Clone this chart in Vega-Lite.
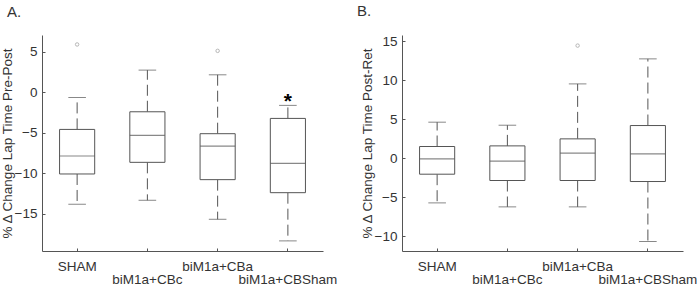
{
  "$schema": "https://vega.github.io/schema/vega-lite/v6.json",
  "padding": {"left": 0, "top": 4, "right": 0, "bottom": 0},
  "spacing": 20,
  "config": {
    "view": {"stroke": null},
    "font": "Liberation Sans",
    "axis": {
      "grid": false,
      "domainColor": "#555555",
      "tickColor": "#555555",
      "labelColor": "#333333",
      "titleColor": "#333333",
      "labelFontSize": 13.5,
      "titleFontSize": 13.5,
      "titleFontWeight": "normal",
      "tickSize": -3
    },
    "title": {"fontSize": 15, "fontWeight": "normal", "anchor": "start", "color": "#333333", "frame": "group"}
  },
  "datasets": {
    "A": [
      {"group": "SHAM", "lower": -13.83, "q1": -10.08, "median": -7.86, "q3": -4.57, "upper": -0.62},
      {"group": "biM1a+CBc", "lower": -13.33, "q1": -8.64, "median": -5.31, "q3": -2.39, "upper": 2.76},
      {"group": "biM1a+CBa", "lower": -15.68, "q1": -10.78, "median": -6.63, "q3": -5.10, "upper": 2.18},
      {"group": "biM1a+CBSham", "lower": -18.35, "q1": -12.39, "median": -8.77, "q3": -3.21, "upper": -1.60}
    ],
    "Aout": [
      {"group": "SHAM", "value": 5.93},
      {"group": "biM1a+CBa", "value": 5.14}
    ],
    "Astar": [
      {"group": "biM1a+CBSham", "y": -1.9, "label": "*"}
    ],
    "B": [
      {"group": "SHAM", "lower": -5.73, "q1": -2.05, "median": -0.09, "q3": 1.50, "upper": 4.62},
      {"group": "biM1a+CBc", "lower": -6.24, "q1": -2.86, "median": -0.38, "q3": 1.58, "upper": 4.23},
      {"group": "biM1a+CBa", "lower": -6.24, "q1": -2.86, "median": 0.64, "q3": 2.48, "upper": 9.53},
      {"group": "biM1a+CBSham", "lower": -10.68, "q1": -2.99, "median": 0.56, "q3": 4.19, "upper": 12.74}
    ],
    "Bout": [
      {"group": "biM1a+CBa", "value": 14.44}
    ]
  },
  "hconcat": [
    {
      "title": {"text": "A.", "dx": -35, "offset": 15},
      "width": 281,
      "height": 216,
      "encoding": {
        "x": {
          "field": "group", "type": "nominal",
          "sort": ["SHAM", "biM1a+CBc", "biM1a+CBa", "biM1a+CBSham"],
          "scale": {"paddingInner": 0, "paddingOuter": 0},
          "axis": {
            "title": null, "labelAngle": 0, "labelPadding": 11, "labelLineHeight": 13,
            "labelExpr": "(datum.label == 'biM1a+CBc' || datum.label == 'biM1a+CBSham') ? ['', datum.label] : datum.label"
          }
        }
      },
      "layer": [
        {
          "data": {"name": "A"},
          "mark": {"type": "rule", "color": "#555555", "strokeDash": [11, 5]},
          "encoding": {
            "y": {"field": "q3", "type": "quantitative", "title": "% Δ Change Lap Time Pre-Post",
              "scale": {"domain": [-19.6, 7.1], "nice": false, "zero": false},
              "axis": {"values": [-15, -10, -5, 0, 5], "labelPadding": 8, "titlePadding": 0}},
            "y2": {"field": "upper"}
          }
        },
        {
          "data": {"name": "A"},
          "mark": {"type": "rule", "color": "#555555", "strokeDash": [11, 5]},
          "encoding": {
            "y": {"field": "q1", "type": "quantitative", "title": "% Δ Change Lap Time Pre-Post"},
            "y2": {"field": "lower"}
          }
        },
        {
          "data": {"name": "A"},
          "mark": {"type": "tick", "color": "#555555", "size": 17.6, "thickness": 1},
          "encoding": {"y": {"field": "upper", "type": "quantitative", "title": "% Δ Change Lap Time Pre-Post"}}
        },
        {
          "data": {"name": "A"},
          "mark": {"type": "tick", "color": "#555555", "size": 17.6, "thickness": 1},
          "encoding": {"y": {"field": "lower", "type": "quantitative", "title": "% Δ Change Lap Time Pre-Post"}}
        },
        {
          "data": {"name": "A"},
          "mark": {"type": "bar", "fill": "white", "stroke": "#555555", "strokeWidth": 1, "width": {"band": 0.5}},
          "encoding": {
            "y": {"field": "q1", "type": "quantitative", "title": "% Δ Change Lap Time Pre-Post"},
            "y2": {"field": "q3"}
          }
        },
        {
          "data": {"name": "A"},
          "mark": {"type": "tick", "color": "#555555", "size": 35, "thickness": 1.2},
          "encoding": {"y": {"field": "median", "type": "quantitative", "title": "% Δ Change Lap Time Pre-Post"}}
        },
        {
          "data": {"name": "Aout"},
          "mark": {"type": "point", "shape": "circle", "filled": false, "color": "#999999", "size": 12, "strokeWidth": 1},
          "encoding": {"y": {"field": "value", "type": "quantitative", "title": "% Δ Change Lap Time Pre-Post"}}
        },
        {
          "data": {"name": "Astar"},
          "mark": {"type": "text", "fontSize": 21, "fontWeight": "bold", "color": "black", "baseline": "alphabetic"},
          "encoding": {
            "y": {"field": "y", "type": "quantitative", "title": "% Δ Change Lap Time Pre-Post"},
            "text": {"field": "label"}
          }
        }
      ]
    },
    {
      "title": {"text": "B.", "dx": -45, "offset": 15},
      "width": 281,
      "height": 216,
      "encoding": {
        "x": {
          "field": "group", "type": "nominal",
          "sort": ["SHAM", "biM1a+CBc", "biM1a+CBa", "biM1a+CBSham"],
          "scale": {"paddingInner": 0, "paddingOuter": 0},
          "axis": {
            "title": null, "labelAngle": 0, "labelPadding": 11, "labelLineHeight": 13,
            "labelExpr": "(datum.label == 'biM1a+CBc' || datum.label == 'biM1a+CBSham') ? ['', datum.label] : datum.label"
          }
        }
      },
      "layer": [
        {
          "data": {"name": "B"},
          "mark": {"type": "rule", "color": "#555555", "strokeDash": [11, 5]},
          "encoding": {
            "y": {"field": "q3", "type": "quantitative", "title": "% Δ Change Lap Time Post-Ret",
              "scale": {"domain": [-11.9, 15.8], "nice": false, "zero": false},
              "axis": {"values": [-10, -5, 0, 5, 10, 15], "labelPadding": 8, "titlePadding": 0}},
            "y2": {"field": "upper"}
          }
        },
        {
          "data": {"name": "B"},
          "mark": {"type": "rule", "color": "#555555", "strokeDash": [11, 5]},
          "encoding": {
            "y": {"field": "q1", "type": "quantitative", "title": "% Δ Change Lap Time Post-Ret"},
            "y2": {"field": "lower"}
          }
        },
        {
          "data": {"name": "B"},
          "mark": {"type": "tick", "color": "#555555", "size": 17.6, "thickness": 1},
          "encoding": {"y": {"field": "upper", "type": "quantitative", "title": "% Δ Change Lap Time Post-Ret"}}
        },
        {
          "data": {"name": "B"},
          "mark": {"type": "tick", "color": "#555555", "size": 17.6, "thickness": 1},
          "encoding": {"y": {"field": "lower", "type": "quantitative", "title": "% Δ Change Lap Time Post-Ret"}}
        },
        {
          "data": {"name": "B"},
          "mark": {"type": "bar", "fill": "white", "stroke": "#555555", "strokeWidth": 1, "width": {"band": 0.5}},
          "encoding": {
            "y": {"field": "q1", "type": "quantitative", "title": "% Δ Change Lap Time Post-Ret"},
            "y2": {"field": "q3"}
          }
        },
        {
          "data": {"name": "B"},
          "mark": {"type": "tick", "color": "#555555", "size": 35, "thickness": 1.2},
          "encoding": {"y": {"field": "median", "type": "quantitative", "title": "% Δ Change Lap Time Post-Ret"}}
        },
        {
          "data": {"name": "Bout"},
          "mark": {"type": "point", "shape": "circle", "filled": false, "color": "#999999", "size": 12, "strokeWidth": 1},
          "encoding": {"y": {"field": "value", "type": "quantitative", "title": "% Δ Change Lap Time Post-Ret"}}
        }
      ]
    }
  ]
}
